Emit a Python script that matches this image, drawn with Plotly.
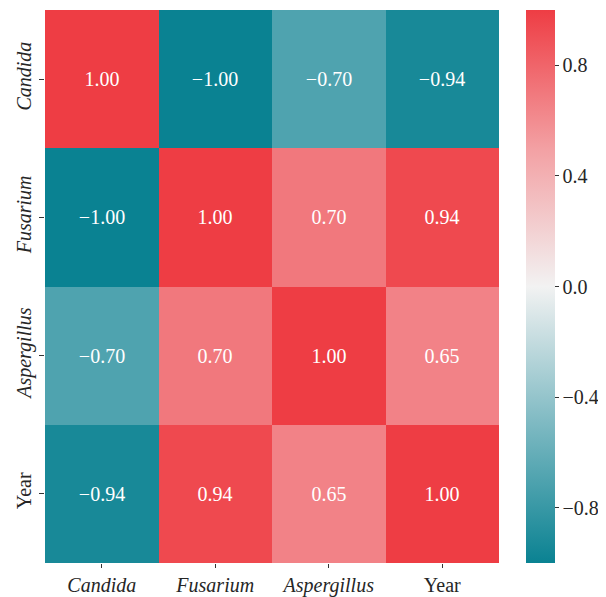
import plotly.graph_objects as go

labels = ['Candida', 'Fusarium', 'Aspergillus', 'Year']
tick_text = ['<i>Candida</i>', '<i>Fusarium</i>', '<i>Aspergillus</i>', 'Year']
corr = [
    [1.00, -1.00, -0.70, -0.94],
    [-1.00, 1.00, 0.70, 0.94],
    [-0.70, 0.70, 1.00, 0.65],
    [-0.94, 0.94, 0.65, 1.00],
]
cbar_ticks = [-0.8, -0.4, 0.0, 0.4, 0.8]

def fmt(v, nd):
    return f'{v:.{nd}f}'.replace('-', '\u2212')

cell_text = [[fmt(v, 2) for v in row] for row in corr]

colorscale = [
    [0.0, '#0A8292'],
    [0.25, '#7DB9C2'],
    [0.5, '#F2F2F2'],
    [0.75, '#F3A0A3'],
    [1.0, '#EE3D44'],
]

font = 'Liberation Serif, DejaVu Serif, serif'

fig = go.Figure(go.Heatmap(
    z=corr,
    x=labels,
    y=labels,
    text=cell_text,
    texttemplate='%{text}',
    textfont=dict(family=font, size=20, color='white'),
    colorscale=colorscale,
    zmin=-1, zmax=1,
    xgap=0, ygap=0,
    colorbar=dict(
        x=1.0595, xanchor='left', xref='paper',
        y=0.5, yanchor='middle', len=1, lenmode='fraction',
        thickness=29, outlinewidth=0, xpad=0, ypad=0,
        ticks='outside', ticklen=4, tickwidth=1, tickcolor='#333',
        tickvals=cbar_ticks,
        ticktext=[fmt(v, 1) for v in cbar_ticks],
        tickfont=dict(family=font, size=20, color='#262626'),
    ),
))

# page body adds an 8px offset, so margins are shifted to compensate
fig.update_layout(
    width=606, height=597,
    margin=dict(l=37, r=115, t=2, b=42, autoexpand=False),
    plot_bgcolor='white', paper_bgcolor='white',
    xaxis=dict(
        tickvals=labels, ticktext=tick_text,
        ticks='outside', ticklen=4, tickcolor='#333',
        tickfont=dict(family=font, size=20, color='#262626'),
        showgrid=False, zeroline=False, automargin=False,
    ),
    yaxis=dict(
        tickvals=labels, ticktext=tick_text,
        autorange='reversed', tickangle=-90,
        ticks='outside', ticklen=5, tickcolor='#333',
        tickfont=dict(family=font, size=20, color='#262626'),
        showgrid=False, zeroline=False, automargin=False,
    ),
)

fig.write_html('out.html')
